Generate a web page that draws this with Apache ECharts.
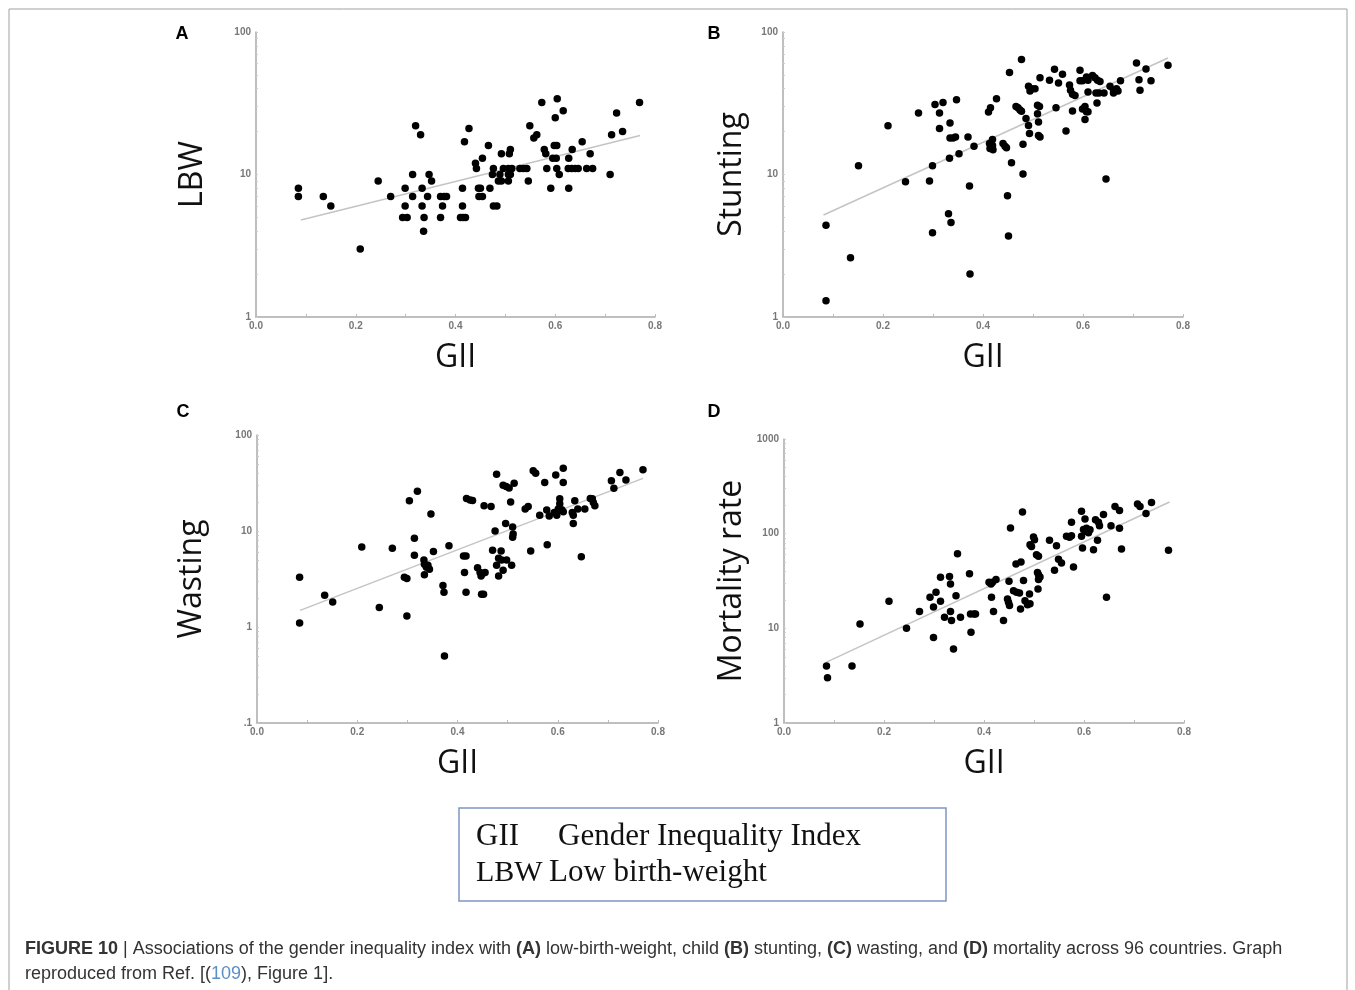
<!DOCTYPE html>
<html>
<head>
<meta charset="utf-8">
<script src="https://cdn.jsdelivr.net/npm/echarts@6/dist/echarts.min.js"></script>
<style>
  html, body { margin: 0; padding: 0; background: #fff; }
  #chart { width: 1355px; height: 990px; }
</style>
</head>
<body>
<div id="chart"></div>
<script>
// GII vs outcome: [GII, value]
var lbwPoints = [
  [0.085,8],[0.085,7],[0.135,7],[0.15,6],[0.209,3],[0.245,9],[0.27,7],
  [0.299,8],[0.299,6],[0.294,5],[0.303,5],[0.314,10],[0.314,7],[0.32,22],[0.33,19],
  [0.333,8],[0.333,6],[0.336,4],[0.337,5],[0.344,7],[0.347,10],[0.352,9],
  [0.37,7],[0.377,7],[0.382,7],[0.374,6],[0.37,5],
  [0.414,8],[0.414,6],[0.41,5],[0.415,5],[0.42,5],[0.418,17],[0.427,21],
  [0.44,12],[0.442,11],[0.446,8],[0.45,8],[0.447,7],[0.454,7],[0.454,13],[0.466,16],[0.469,8],
  [0.474,10],[0.476,11],[0.476,6],[0.483,6],[0.486,9],[0.492,9],[0.489,10],[0.492,14],[0.496,11],
  [0.506,9],[0.506,10],[0.51,10],[0.508,14],[0.51,15],[0.506,11],[0.513,11],
  [0.529,11],[0.536,11],[0.543,11],[0.546,9],[0.549,22],[0.557,18],[0.563,19],[0.573,32],
  [0.578,15],[0.581,14],[0.583,11],[0.591,8],[0.595,13],[0.602,13],[0.598,16],[0.603,16],[0.6,25],[0.604,34],
  [0.603,11],[0.608,10],[0.616,28],[0.626,11],[0.633,11],[0.627,13],[0.627,8],[0.634,15],[0.64,11],[0.646,11],
  [0.654,17],[0.663,11],[0.675,11],[0.67,14],[0.71,10],[0.713,19],[0.723,27],[0.735,20],[0.769,32]
];
var stuntingPoints = [
  [0.086,1.3],[0.086,4.4],[0.135,2.6],[0.151,11.5],[0.21,22],[0.245,8.9],[0.271,27],[0.293,9],
  [0.299,11.5],[0.299,3.9],[0.304,31],[0.313,27],[0.313,21],[0.32,32],[0.331,5.3],[0.336,4.6],
  [0.333,13],[0.334,23],[0.334,18],[0.34,18],[0.345,18.3],[0.347,33.5],[0.352,14],[0.37,18.3],[0.373,8.3],[0.374,2],[0.382,15.8],
  [0.411,27.5],[0.415,29.4],[0.413,16.5],[0.419,16],[0.414,15.2],[0.42,14.9],[0.419,17.6],[0.427,34],
  [0.44,16.5],[0.444,15.8],[0.447,15.4],[0.449,7.1],[0.451,3.7],[0.453,52],[0.457,12.1],
  [0.466,30],[0.47,29.4],[0.474,28.4],[0.477,27.8],[0.477,64],[0.48,16.3],[0.48,10.1],[0.486,24.7],
  [0.491,22.1],[0.493,19.4],[0.491,41.6],[0.494,38.5],[0.497,40],[0.504,40],[0.509,30.6],[0.513,30],[0.509,26.7],[0.511,23.4],[0.511,18.8],[0.514,18.3],[0.514,47.8],
  [0.533,45.8],[0.543,54.7],[0.546,29.4],[0.551,43.9],[0.559,50.5],[0.566,20.2],
  [0.573,42.4],[0.575,39],[0.579,36.6],[0.584,35.8],[0.579,27.9],[0.594,54],[0.594,45.5],[0.599,45.5],[0.599,28.8],[0.604,30],[0.604,24.3],
  [0.607,48.4],[0.61,45.8],[0.61,37.9],[0.607,27.6],[0.61,27.6],[0.619,49.5],[0.624,47.8],[0.629,45.8],[0.634,44.9],[0.628,31.7],
  [0.626,37.3],[0.632,37.3],[0.642,37.3],[0.654,41.6],[0.661,39],[0.667,40],[0.675,45.5],[0.661,37.3],[0.67,38.5],[0.646,9.3],
  [0.707,60.7],[0.712,46.3],[0.714,39],[0.726,55],[0.736,45.5],[0.77,58.5]
];
var wastingPoints = [
  [0.085,3.3],[0.085,1.1],[0.135,2.14],[0.151,1.82],[0.209,6.8],[0.244,1.6],[0.27,6.6],[0.294,3.3],[0.299,3.2],[0.299,1.3],
  [0.304,20.6],[0.314,8.4],[0.314,5.6],[0.32,26],[0.333,5.0],[0.334,4.5],[0.338,4.2],[0.341,4.4],[0.334,3.5],[0.344,4.0],
  [0.347,15],[0.352,6.1],[0.371,2.7],[0.373,2.3],[0.374,0.5],[0.383,7.0],[0.412,5.5],[0.417,5.5],[0.414,3.7],[0.417,2.3],
  [0.418,21.8],[0.425,21],[0.43,20.8],[0.44,4.15],[0.445,3.7],[0.45,3.6],[0.455,3.7],[0.447,3.4],[0.448,2.2],[0.452,2.2],
  [0.453,18.3],[0.467,18],[0.47,6.3],[0.475,10],[0.478,39],[0.478,4.4],[0.482,5.2],[0.482,3.4],[0.487,6.2],[0.488,5.0],[0.491,3.9],
  [0.491,30],[0.497,29],[0.503,28],[0.496,12],[0.498,5.0],[0.506,20],[0.508,4.4],[0.51,11],[0.511,9.3],[0.51,8.6],[0.513,31.5],
  [0.535,16.9],[0.541,18],[0.546,6.2],[0.551,42.5],[0.556,40],[0.564,14.6],[0.574,32],[0.578,16.5],[0.583,14.3],[0.579,7.2],
  [0.596,38.3],[0.593,15.6],[0.598,14.6],[0.601,17],[0.604,19.2],[0.604,21.7],[0.608,16.6],[0.611,15.9],[0.611,45],[0.611,32],
  [0.629,15.6],[0.631,14.6],[0.631,12],[0.634,20.6],[0.64,17],[0.647,5.4],[0.654,17],[0.665,21.8],[0.669,21.7],[0.671,19.8],[0.674,18.3],
  [0.707,33.3],[0.712,27.8],[0.724,40.7],[0.736,34],[0.77,43.5]
];
var mortalityPoints = [
  [0.085,4],[0.087,3],[0.136,4],[0.152,11.1],[0.21,19.3],[0.245,10],[0.271,15.1],[0.292,21.3],[0.304,24],[0.299,16.8],[0.299,8],
  [0.313,19.3],[0.313,34.6],[0.321,13.1],[0.331,35.3],[0.333,29.4],[0.333,15.1],[0.335,12.1],[0.339,6.05],[0.344,22.1],[0.347,61.5],[0.353,13.1],
  [0.371,37.8],[0.373,14.2],[0.38,14.2],[0.383,14.2],[0.374,9.1],[0.41,30.6],[0.414,29.4],[0.417,30.6],[0.424,32.7],[0.415,21.3],[0.419,15.1],
  [0.439,12.1],[0.447,20.4],[0.449,18.9],[0.451,17.4],[0.45,31.4],[0.453,115],[0.459,25],[0.465,24],[0.471,23.6],[0.464,47.8],[0.474,50.2],[0.473,16],
  [0.477,169],[0.479,32],[0.482,19.6],[0.487,17.8],[0.492,18.2],[0.491,23],[0.492,76.5],[0.495,73],[0.499,92],[0.501,86],
  [0.505,60],[0.509,57.6],[0.507,39],[0.509,36.8],[0.512,34.8],[0.509,32.7],[0.508,26],[0.531,85],[0.541,41],[0.545,74.7],[0.549,53.7],[0.555,49],
  [0.565,94],[0.571,91.6],[0.575,95],[0.575,132],[0.579,44.5],[0.595,172],[0.597,70.6],[0.595,94],[0.599,111],[0.602,143],[0.605,114],[0.604,106],[0.609,102],[0.612,110],
  [0.619,67.8],[0.623,140],[0.629,132],[0.631,121],[0.627,85],[0.639,159],[0.645,21.3],[0.654,121],[0.662,194],[0.671,176],[0.671,114],[0.675,69],
  [0.707,206],[0.712,194],[0.724,163],[0.735,214],[0.769,66.7]
];

// fitted lines, end points
var lbwTrend = [[0.09,4.8],[0.77,18.8]];
var stuntingTrend = [[0.081,5.2],[0.77,65.7]];
var wastingTrend = [[0.086,1.49],[0.77,35.3]];
var mortalityTrend = [[0.085,4.4],[0.771,216]];

var giiTicks = [0, 0.1, 0.2, 0.3, 0.4, 0.5, 0.6, 0.7, 0.8];
var yNames = ['LBW', 'Stunting', 'Wasting', 'Mortality rate'];
var yRanges = [[1, 100], [1, 100], [0.1, 100], [1, 1000]];
var panelLetters = ['A', 'B', 'C', 'D'];

function logTicks(min, max) {
  var out = [];
  for (var d = min; d < max; d *= 10) {
    for (var k = 1; k < 10; k++) out.push(+(d * k).toPrecision(3));
  }
  out.push(max);
  return out;
}
function decades(min, max) {
  var out = [];
  for (var d = min; d <= max * 1.0001; d *= 10) out.push(+d.toPrecision(3));
  return out;
}

var grids = [
  {left: 256, top: 32, width: 399, height: 285},
  {left: 783, top: 32, width: 400, height: 285},
  {left: 257, top: 435, width: 401, height: 288},
  {left: 784, top: 439, width: 400, height: 284}
];
var letterPos = [[182, 34], [714, 34], [183, 412], [714, 412]];
var yNameGap = [47, 35, 49, 36];

var tickLabel = {fontFamily: 'Liberation Sans', fontWeight: 'bold', fontSize: 10, color: '#777'};
var axisLine = {show: true, lineStyle: {color: '#aaa', width: 1.5}};

var xAxes = [], yAxes = [], series = [];
var pointSets = [lbwPoints, stuntingPoints, wastingPoints, mortalityPoints];
var trendSets = [lbwTrend, stuntingTrend, wastingTrend, mortalityTrend];

for (var i = 0; i < 4; i++) {
  xAxes.push({
    gridIndex: i, type: 'value', min: 0, max: 0.8, interval: 0.2,
    name: 'GII', nameLocation: 'middle', nameGap: 25, nameMoveOverlap: false,
    nameTextStyle: {fontFamily: 'Open Sans', fontSize: 32, color: '#111'},
    axisLine: axisLine,
    axisTick: {show: true, inside: true, length: 3, customValues: giiTicks, lineStyle: {color: '#bbb'}},
    axisLabel: Object.assign({margin: 4, formatter: function (v) { return v.toFixed(1); }}, tickLabel),
    splitLine: {show: false}
  });
  yAxes.push({
    gridIndex: i, type: 'log', logBase: 10, min: yRanges[i][0], max: yRanges[i][1],
    name: yNames[i], nameLocation: 'middle', nameGap: yNameGap[i], nameRotate: 90, nameMoveOverlap: false,
    nameTextStyle: {fontFamily: 'Open Sans', fontSize: 32, color: '#111'},
    axisLine: axisLine,
    axisTick: {show: true, inside: true, length: 2, customValues: logTicks(yRanges[i][0], yRanges[i][1]), lineStyle: {color: '#ccc'}},
    axisLabel: Object.assign({margin: 5, customValues: decades(yRanges[i][0], yRanges[i][1]),
      formatter: function (v) { return v < 1 ? '.1' : String(Math.round(v)); }}, tickLabel),
    splitLine: {show: false}
  });
  series.push({
    type: 'line', xAxisIndex: i, yAxisIndex: i, data: trendSets[i],
    symbol: 'none', silent: true, z: 1,
    lineStyle: {color: '#c4c4c4', width: 1.5}
  });
  series.push({
    type: 'scatter', xAxisIndex: i, yAxisIndex: i, data: pointSets[i],
    symbolSize: 7.5, z: 2,
    itemStyle: {color: '#000', opacity: 1}
  });
}

var graphics = [
  {type: 'rect', shape: {x: 9, y: 9, width: 1338, height: 1000}, style: {fill: 'none', stroke: '#a0a0a0', lineWidth: 1}, silent: true},
  {type: 'rect', shape: {x: 459, y: 808, width: 487, height: 93}, style: {fill: '#fff', stroke: '#7f96c4', lineWidth: 1.5}},
  {type: 'text', x: 476, y: 837, style: {text: 'GII', font: '31px "Liberation Serif"', fill: '#111', textVerticalAlign: 'middle'}},
  {type: 'text', x: 558, y: 837, style: {text: 'Gender Inequality Index', font: '31px "Liberation Serif"', fill: '#111', textVerticalAlign: 'middle'}},
  {type: 'text', x: 476, y: 873, style: {text: 'LBW', font: '30px "Liberation Serif"', fill: '#111', textVerticalAlign: 'middle'}},
  {type: 'text', x: 549, y: 873, style: {text: 'Low birth-weight', font: '31px "Liberation Serif"', fill: '#111', textVerticalAlign: 'middle'}},
  {
    type: 'text', x: 25, y: 937,
    style: {
      text: '{b|FIGURE 10} | Associations of the gender inequality index with {b|(A)} low-birth-weight, child {b|(B)} stunting, {b|(C)} wasting, and {b|(D)} mortality across 96 countries. Graph\nreproduced from Ref. [({l|109}), Figure 1].',
      fontFamily: 'Liberation Sans', fontSize: 18, fill: '#333', lineHeight: 25,
      rich: {
        b: {fontFamily: 'Liberation Sans', fontWeight: 'bold', fontSize: 18, fill: '#333', lineHeight: 25},
        l: {fontFamily: 'Liberation Sans', fontSize: 18, fill: '#5a8fc8', lineHeight: 25}
      }
    }
  }
];
for (var j = 0; j < 4; j++) {
  graphics.push({
    type: 'text', x: letterPos[j][0], y: letterPos[j][1],
    style: {text: panelLetters[j], font: 'bold 18px "Liberation Sans"', fill: '#000', textAlign: 'center', textVerticalAlign: 'middle'}
  });
}

var chart = echarts.init(document.getElementById('chart'));
var option = {
  backgroundColor: '#fff',
  animation: false,
  grid: grids,
  xAxis: xAxes,
  yAxis: yAxes,
  series: series,
  graphic: graphics
};
chart.setOption(option);
</script>
</body>
</html>
